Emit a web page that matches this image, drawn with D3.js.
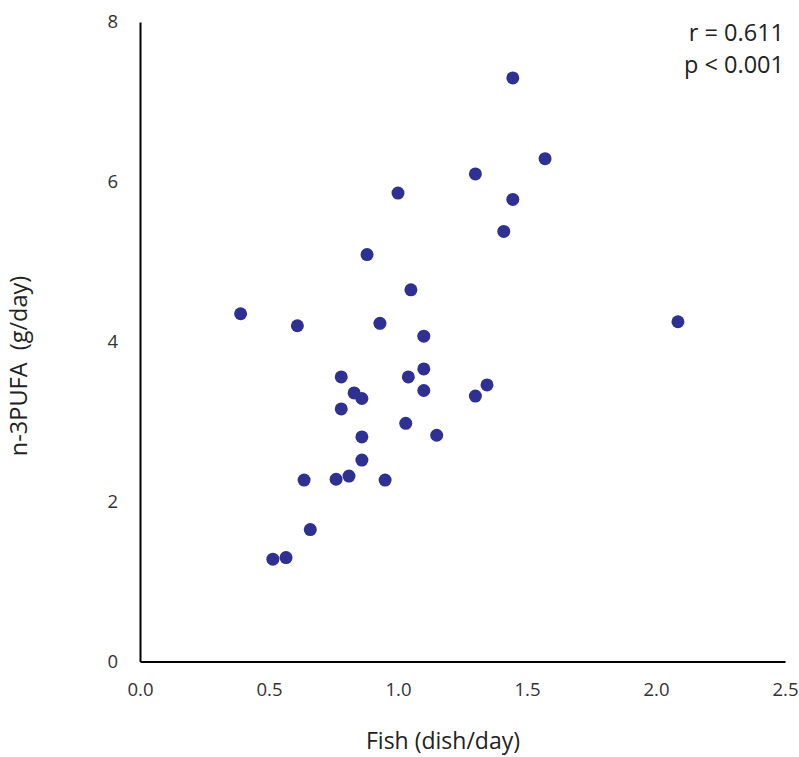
<!DOCTYPE html>
<html><head><meta charset="utf-8">
<script src="https://cdn.jsdelivr.net/npm/d3@7"></script>
<style>body{margin:0;background:#fff}</style>
</head><body>
<svg id="c" width="799" height="757"></svg>
<script>
const fishX = [0.39,0.61,1.05,0.93,1.10,0.88,1.00,1.30,1.445,1.57,1.445,1.41,2.085,0.78,1.04,1.10,1.345,1.30,1.10,0.83,0.86,0.78,1.03,1.15,0.86,0.86,0.636,0.76,0.81,0.95,0.66,0.515,0.566];
const pufaY = [4.35,4.20,4.65,4.23,4.07,5.09,5.86,6.10,7.30,6.29,5.78,5.38,4.25,3.56,3.56,3.66,3.46,3.32,3.39,3.36,3.29,3.16,2.98,2.83,2.81,2.52,2.27,2.28,2.32,2.27,1.65,1.28,1.30];
const xTicks = [0,0.5,1.0,1.5,2.0,2.5];
const yTicks = [0,2,4,6,8];
const statLines = ["r = 0.611","p < 0.001"];

const svg = d3.select("#c");
const font = "'Open Sans', sans-serif";
const x = d3.scaleLinear().domain([0,2.5]).range([140,785]);
const y = d3.scaleLinear().domain([0,8]).range([661.5,22]);

const xa = svg.append("g").attr("transform","translate(0,661.5)")
  .call(d3.axisBottom(x).tickValues(xTicks).tickFormat(d3.format(".1f")).tickSize(0).tickPadding(21));
const ya = svg.append("g").attr("transform","translate(140,0)")
  .call(d3.axisLeft(y).tickValues(yTicks).tickFormat(d3.format("d")).tickSize(0).tickPadding(22));
[xa,ya].forEach(a=>{
  a.select(".domain").attr("stroke","#000").attr("stroke-width",2);
  a.selectAll("text").attr("font-family",font).attr("font-size",18.5).attr("fill","#333");
});

svg.append("g").selectAll("circle").data(fishX.map((v,i)=>[v,pufaY[i]])).join("circle")
  .attr("cx",d=>x(d[0])).attr("cy",d=>y(d[1])).attr("r",6.5).attr("fill","#2e3192");

svg.append("text").attr("x",443).attr("y",749).attr("text-anchor","middle")
  .attr("font-family",font).attr("font-size",23).attr("fill","#222").text("Fish (dish/day)");
svg.append("text").attr("transform","translate(27,366) rotate(-90)").attr("text-anchor","middle")
  .attr("font-family",font).attr("font-size",23.5).attr("fill","#222").style("white-space","pre")
  .text("n-3PUFA  (g/day)");
svg.append("g").selectAll("text").data(statLines).join("text")
  .attr("x",784).attr("y",(d,i)=>41+i*32).attr("text-anchor","end")
  .attr("font-family",font).attr("font-size",23.5).attr("fill","#222").text(d=>d);
</script>
</body></html>
